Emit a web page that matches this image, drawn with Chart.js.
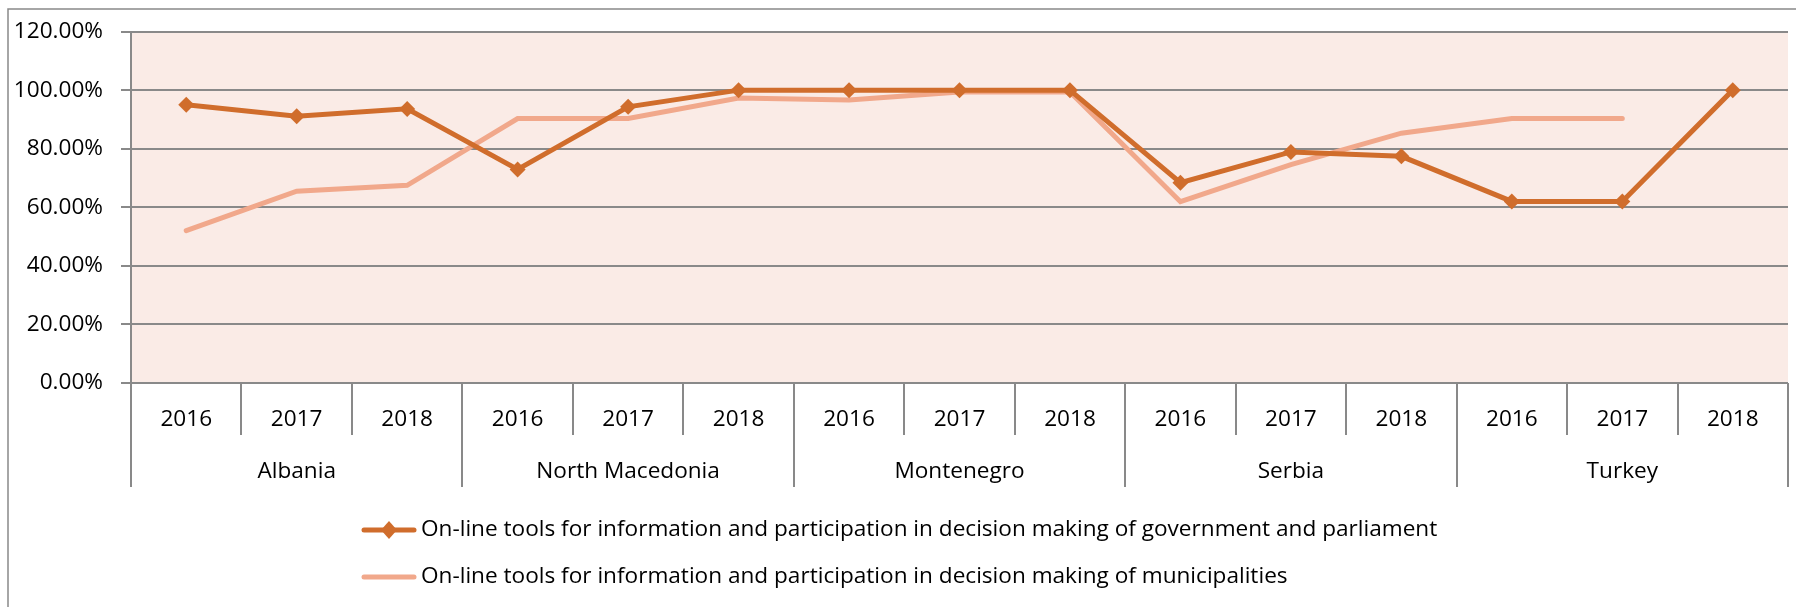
<!DOCTYPE html>
<html>
<head>
<meta charset="utf-8">
<script src="https://cdn.jsdelivr.net/npm/chart.js@4"></script>
<style>
  html, body { margin: 0; padding: 0; background: #fff; }
  #wrap { width: 1796px; height: 607px; position: relative; }
</style>
</head>
<body>
<div id="wrap"><canvas id="myChart"></canvas></div>
<script>
// chart data
let years = ["2016", "2017", "2018", "2016", "2017", "2018", "2016", "2017", "2018",
             "2016", "2017", "2018", "2016", "2017", "2018"];
let countries = ["Albania", "North Macedonia", "Montenegro", "Serbia", "Turkey"];
let yearsPerCountry = 3;

let govValues = [95.0, 91.1, 93.6, 72.9, 94.3, 100, 100, 100, 100, 68.4, 78.9, 77.4, 62.0, 62.0, 100];
let munValues = [52.0, 65.5, 67.5, 90.3, 90.3, 97.3, 96.6, 99.4, 99.4, 61.9, 74.6, 85.3, 90.3, 90.3, null];

let seriesNames = [
  "On-line tools for information and participation in decision making of government and parliament",
  "On-line tools for information and participation in decision making of municipalities",
];
let yTicks = [0, 20, 40, 60, 80, 100, 120];

let FONT = "'Open Sans', sans-serif";
let FONT_SIZE = 22.6;
let GRID = "#898989";

// background, outer frame, category groups and legend
let decorations = {
  id: "decorations",
  beforeDraw(chart) {
    let c = chart.ctx, a = chart.chartArea;
    c.save();
    c.fillStyle = "#FAEBE6";
    c.fillRect(a.left, a.top, a.right - a.left, a.bottom - a.top);
    c.strokeStyle = GRID;
    c.lineWidth = 1.5;
    c.beginPath();
    c.moveTo(8, 607);
    c.lineTo(8, 9);
    c.lineTo(1796, 9);
    c.stroke();
    c.restore();
  },
  afterDraw(chart) {
    let c = chart.ctx, a = chart.chartArea, x = chart.scales.x;
    let step = (x.right - x.left) / years.length;
    c.save();
    c.strokeStyle = GRID;
    c.lineWidth = 2;
    for (let i = 0; i <= years.length; i++) {
      let px = Math.round(x.getPixelForValue(i) - step / 2);
      if (i === years.length) px = Math.round(x.getPixelForValue(i - 1) + step / 2);
      let long = i % yearsPerCountry === 0;
      c.beginPath();
      c.moveTo(px, a.bottom);
      c.lineTo(px, a.bottom + (long ? 104 : 52));
      c.stroke();
    }
    c.fillStyle = "#000";
    c.font = FONT_SIZE + "px " + FONT;
    c.textAlign = "center";
    c.textBaseline = "middle";
    countries.forEach((name, k) => {
      let first = x.getPixelForValue(k * yearsPerCountry);
      let last = x.getPixelForValue(k * yearsPerCountry + yearsPerCountry - 1);
      c.fillText(name, (first + last) / 2, a.bottom + 89);
    });

    // legend
    let lx = 362, ly = [530, 577];
    chart.data.datasets.forEach((ds, k) => {
      c.strokeStyle = ds.borderColor;
      c.lineWidth = 5;
      c.lineCap = "round";
      c.beginPath();
      c.moveTo(lx + 2, ly[k]);
      c.lineTo(lx + 52, ly[k]);
      c.stroke();
      if (ds.pointRadius > 0) {
        c.fillStyle = ds.pointBackgroundColor;
        c.beginPath();
        c.moveTo(lx + 27, ly[k] - 9);
        c.lineTo(lx + 35, ly[k]);
        c.lineTo(lx + 27, ly[k] + 9);
        c.lineTo(lx + 19, ly[k]);
        c.closePath();
        c.fill();
      }
      c.fillStyle = "#000";
      c.textAlign = "left";
      c.fillText(ds.label, lx + 59, ly[k]);
    });
    c.restore();
  },
};

let ctx = document.getElementById("myChart").getContext("2d");

let myChart = new Chart(ctx, {
  type: "line",
  data: {
    labels: years,
    datasets: [
      {
        label: seriesNames[0],
        data: govValues,
        borderColor: "#D06D2C",
        backgroundColor: "#D06D2C",
        borderWidth: 5,
        pointStyle: "rectRot",
        pointRadius: 8,
        pointBackgroundColor: "#D06D2C",
        pointBorderWidth: 0,
        tension: 0,
      },
      {
        label: seriesNames[1],
        data: munValues,
        borderColor: "#F1A88B",
        backgroundColor: "#F1A88B",
        borderWidth: 5,
        borderCapStyle: "round",
        pointRadius: 0,
        tension: 0,
      },
    ],
  },
  options: {
    responsive: true,
    maintainAspectRatio: false,
    animation: false,
    layout: { padding: { top: 27, right: 5, left: 0, bottom: 0 } },
    plugins: {
      legend: { display: false },
      tooltip: { enabled: false },
    },
    scales: {
      x: {
        offset: true,
        grid: { display: false, drawTicks: false },
        border: { display: false },
        ticks: {
          color: "#000",
          font: { family: FONT, size: FONT_SIZE },
          padding: 23,
          maxRotation: 0,
          autoSkip: false,
        },
        afterFit: (s) => { s.height = 224; },
      },
      y: {
        min: 0,
        max: 120,
        afterBuildTicks: (s) => { s.ticks = yTicks.map((v) => ({ value: v })); },
        grid: { color: GRID, lineWidth: 2, tickLength: 10 },
        border: { color: GRID, width: 2 },
        ticks: {
          color: "#000",
          font: { family: FONT, size: FONT_SIZE },
          padding: 18,
          callback: (v) => v.toFixed(2) + "%",
        },
        afterFit: (s) => { s.width = 131; },
      },
    },
  },
  plugins: [decorations],
});
</script>
</body>
</html>
